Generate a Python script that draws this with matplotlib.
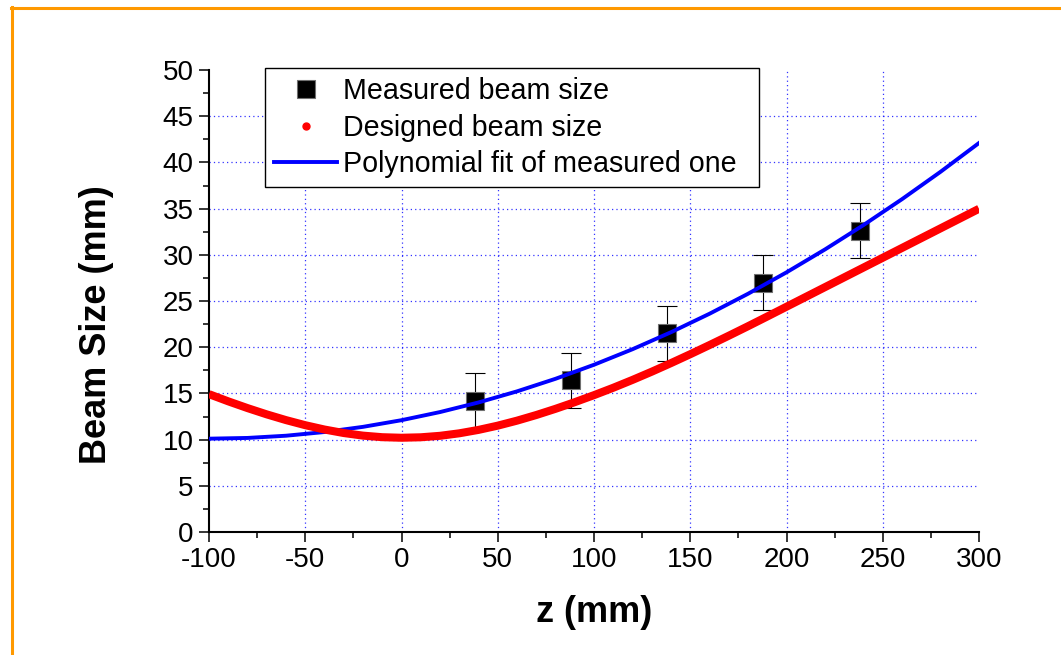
import numpy as np
import matplotlib.pyplot as plt
from matplotlib.lines import Line2D

plt.rcParams['font.family'] = ['Liberation Sans', 'DejaVu Sans']
plt.rcParams['axes.unicode_minus'] = False

# measured beam size with error bars
z_meas = [38, 88, 138, 188, 238]
size_meas = [14.2, 16.4, 21.5, 27.0, 32.6]
size_err = [3.0, 3.0, 3.0, 3.0, 3.0]

# design envelope along z
z_design = [-100, -90, -80, -70, -60, -50, -40, -30, -20, -10, 0,
            10, 20, 30, 40, 50, 60, 70, 80, 90, 100,
            110, 120, 130, 140, 150, 160, 170, 180, 190, 200,
            210, 220, 230, 240, 250, 260, 270, 280, 290, 300]
size_design = [14.92, 14.14, 13.41, 12.73, 12.11, 11.56, 11.09, 10.71, 10.43, 10.26, 10.20,
               10.25, 10.41, 10.68, 11.05, 11.51, 12.05, 12.66, 13.33, 14.05, 14.81,
               15.61, 16.46, 17.35, 18.28, 19.24, 20.23, 21.24, 22.27, 23.32, 24.38,
               25.44, 26.50, 27.56, 28.62, 29.68, 30.74, 31.80, 32.86, 33.92, 34.98]

# polynomial fit of the measured points
z_fit = [-100, -80, -60, -40, -20, 0, 20, 40, 60, 80, 100,
         120, 140, 160, 180, 200, 220, 240, 260, 280, 300]
size_fit = [10.1, 10.18, 10.42, 10.82, 11.38, 12.1, 12.98, 14.02, 15.22, 16.58, 18.1,
            19.78, 21.62, 23.62, 25.78, 28.1, 30.58, 33.22, 36.02, 38.98, 42.1]

xticks = [-100, -50, 0, 50, 100, 150, 200, 250, 300]
yticks = [0, 5, 10, 15, 20, 25, 30, 35, 40, 45, 50]

fig = plt.figure(figsize=(10.61, 6.55), dpi=100)
ax = fig.add_axes([209 / 1061, 1 - 532 / 655, 770 / 1061, 462 / 655])

ax.errorbar(z_meas, size_meas, yerr=size_err, fmt='none', ecolor='black',
            elinewidth=0.8, capsize=7, capthick=0.8, zorder=2)
sq, = ax.plot(z_meas, size_meas, 's', color='black', markersize=12.5,
              markeredgecolor='#707070', markeredgewidth=0.8, zorder=3)
fit_line, = ax.plot(z_fit, size_fit, color='#0000FF', lw=2.8, zorder=4)
ax.plot(z_design, size_design, color='#FF0000', lw=5.8, zorder=5,
        solid_capstyle='butt')

ax.set_xlim(-100, 300)
ax.set_ylim(0, 50)
ax.set_xticks(xticks)
ax.set_yticks(yticks)
ax.set_xticks(np.arange(-75, 300, 50), minor=True)
ax.set_yticks(np.arange(2.5, 50, 5), minor=True)

ax.grid(True, which='major', color='#0000FF', linestyle=(0, (1, 2.5)), lw=0.9, alpha=0.8)
ax.set_axisbelow(True)
for gl in (ax.xaxis.get_gridlines()[0], ax.xaxis.get_gridlines()[-1],
           ax.yaxis.get_gridlines()[0], ax.yaxis.get_gridlines()[-1]):
    gl.set_visible(False)

for side in ('top', 'right'):
    ax.spines[side].set_visible(False)
for side in ('left', 'bottom'):
    ax.spines[side].set_linewidth(1.5)

ax.tick_params(which='major', direction='out', length=7, width=1.1,
               labelsize=20, pad=4)
ax.tick_params(which='minor', direction='out', length=4, width=1.1)

ax.set_xlabel('z (mm)', fontsize=26, fontweight='bold', va='center')
ax.xaxis.set_label_coords(0.5, (532 - 612) / 462)
ax.set_ylabel('Beam Size (mm)', fontsize=26, fontweight='bold', va='center')
ax.yaxis.set_label_coords((97 - 209) / 770, (532 - 325) / 462)

dot = Line2D([], [], ls='none', marker='o', color='#FF0000', markersize=5)
leg = ax.legend([sq, dot, fit_line],
                ['Measured beam size', 'Designed beam size',
                 'Polynomial fit of measured one'],
                loc='upper left',
                bbox_to_anchor=((265 - 209) / 770, (532 - 68) / 462,
                                (759 - 265) / 770, 0),
                mode='expand', fontsize=20.6, handlelength=2.2,
                handletextpad=0.2, borderpad=0.32, labelspacing=0.3,
                borderaxespad=0, fancybox=False, framealpha=1,
                edgecolor='black')
leg.get_frame().set_linewidth(1.0)

# orange frame along the top and left edges
fig.add_artist(Line2D([11 / 1061, 1], [1 - 8 / 655, 1 - 8 / 655],
                      color='#FF9900', lw=2.2, transform=fig.transFigure))
fig.add_artist(Line2D([12 / 1061, 12 / 1061], [0, 1 - 7 / 655],
                      color='#FF9900', lw=2.2, transform=fig.transFigure))

fig.savefig('out.png', dpi=100)
